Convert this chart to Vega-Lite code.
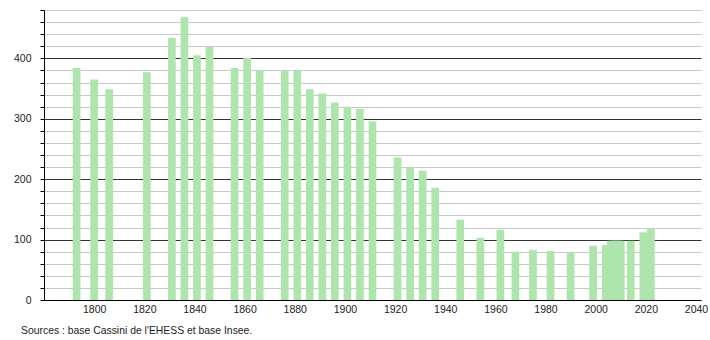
{
  "$schema": "https://vega.github.io/schema/vega-lite/v6.json",
  "width": 657,
  "height": 290,
  "autosize": {"type": "none"},
  "padding": {"left": 44, "top": 10, "right": 9, "bottom": 40},
  "background": "white",
  "config": {
    "view": {"stroke": null},
    "font": "Liberation Sans",
    "axis": {"labelFont": "Liberation Sans", "labelFontSize": 10.5, "labelColor": "#222"}
  },
  "title": {
    "text": "Sources : base Cassini de l'EHESS et base Insee.",
    "orient": "bottom",
    "anchor": "start",
    "frame": "group",
    "dx": -23,
    "offset": 11,
    "fontSize": 10.4,
    "fontWeight": "normal",
    "font": "Liberation Sans",
    "color": "#222"
  },
  "data": {
    "values": [
      {"year": 1793, "pop": 384},
      {"year": 1800, "pop": 365},
      {"year": 1806, "pop": 349},
      {"year": 1821, "pop": 377},
      {"year": 1831, "pop": 434},
      {"year": 1836, "pop": 468},
      {"year": 1841, "pop": 405},
      {"year": 1846, "pop": 419},
      {"year": 1856, "pop": 384},
      {"year": 1861, "pop": 401},
      {"year": 1866, "pop": 380},
      {"year": 1876, "pop": 380},
      {"year": 1881, "pop": 380},
      {"year": 1886, "pop": 349},
      {"year": 1891, "pop": 342},
      {"year": 1896, "pop": 327},
      {"year": 1901, "pop": 320},
      {"year": 1906, "pop": 316},
      {"year": 1911, "pop": 296},
      {"year": 1921, "pop": 236},
      {"year": 1926, "pop": 220},
      {"year": 1931, "pop": 214},
      {"year": 1936, "pop": 186},
      {"year": 1946, "pop": 133},
      {"year": 1954, "pop": 103},
      {"year": 1962, "pop": 116},
      {"year": 1968, "pop": 80},
      {"year": 1975, "pop": 83},
      {"year": 1982, "pop": 81},
      {"year": 1990, "pop": 79},
      {"year": 1999, "pop": 90},
      {"year": 2004, "pop": 91},
      {"year": 2006, "pop": 98},
      {"year": 2007, "pop": 98},
      {"year": 2008, "pop": 98},
      {"year": 2009, "pop": 98},
      {"year": 2010, "pop": 98},
      {"year": 2014, "pop": 98},
      {"year": 2019, "pop": 112},
      {"year": 2022, "pop": 119}
    ]
  },
  "mark": {"type": "bar", "size": 7.7, "color": "#ade5ad"},
  "encoding": {
    "x": {
      "field": "year",
      "type": "quantitative",
      "scale": {"domain": [1780, 2042], "nice": false, "zero": false, "padding": 0},
      "axis": {
        "title": null,
        "values": [1800, 1820, 1840, 1860, 1880, 1900, 1920, 1940, 1960, 1980, 2000, 2020, 2040],
        "format": "d",
        "grid": false,
        "ticks": false,
        "labelPadding": 4,
        "domainColor": "#000",
        "domainWidth": 1
      }
    },
    "y": {
      "field": "pop",
      "type": "quantitative",
      "scale": {"domain": [0, 480], "nice": false},
      "axis": {
        "title": null,
        "values": [0, 20, 40, 60, 80, 100, 120, 140, 160, 180, 200, 220, 240, 260, 280, 300, 320, 340, 360, 380, 400, 420, 440, 460, 480],
        "labelExpr": "datum.value % 100 === 0 ? datum.label : ''",
        "grid": true,
        "gridColor": {"condition": {"test": "datum.value % 100 === 0", "value": "#333"}, "value": "#c8c8c8"},
        "gridWidth": 1,
        "gridOpacity": 1,
        "tickColor": "#000",
        "tickSize": 4,
        "labelPadding": 9,
        "domainColor": "#000"
      }
    }
  }
}
